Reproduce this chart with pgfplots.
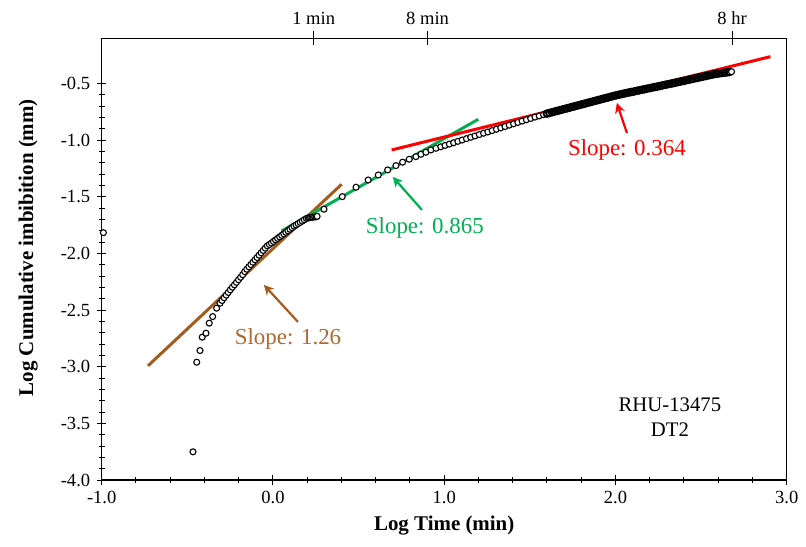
\documentclass[border=0pt]{standalone}
\usepackage{pgfplots}
\pgfplotsset{compat=1.18}
\usepackage{fontspec}
\setmainfont{Liberation Serif}
\usetikzlibrary{arrows.meta}
\definecolor{brownline}{RGB}{164,92,28}
\definecolor{brownlabel}{RGB}{176,104,48}
\definecolor{greenline}{RGB}{0,176,80}
\definecolor{redline}{RGB}{255,0,0}
\begin{document}
\begin{tikzpicture}
\begin{axis}[
  name=main,
  scale only axis,
  width=342.5bp, height=220.85bp,
  xmin=-1, xmax=3, ymin=-4, ymax=-0.1,
  xtick={-1,0,1,2,3}, ytick={-4,-3.5,-3,-2.5,-2,-1.5,-1,-0.5},
  minor x tick num=4, minor y tick num=4,
  xtick pos=bottom, ytick pos=left,
  tick align=center,
  major tick length=4.5bp, minor tick length=3bp,
  tick style={black, line width=0.5pt},
  axis line style={black, line width=0.6pt},
  ticklabel style={font=\fontsize{9.3}{10}\selectfont},
  /pgf/number format/.cd, fixed, fixed zerofill, precision=1, assume math mode=true,
  /pgfplots/.cd,
  xlabel={\textbf{Log Time (min)}},
  ylabel={\textbf{Log Cumulative imbibition (mm)}},
  label style={font=\fontsize{10.5}{12}\selectfont},
  xlabel style={at={(axis description cs:0.5,-0.102)}, anchor=center},
  ylabel style={at={(axis description cs:-0.1075,0.526)}, anchor=center},
  clip=false,
]
\addplot[brownline, line width=1.5bp] coordinates {(-0.730,-2.992) (0.401,-1.389)};
\addplot[greenline, line width=1.5bp] coordinates {(0.051,-1.801) (1.199,-0.815)};
\addplot[redline, line width=1.5bp] coordinates {(0.693,-1.086) (2.905,-0.262)};
\addplot[only marks, mark=*, mark size=1.5bp, mark options={draw=black, fill=white, line width=0.55pt}] coordinates {
(-0.990,-1.816) (-0.467,-3.751) (-0.445,-2.960) (-0.426,-2.857) (-0.413,-2.739) (-0.391,-2.704) (-0.372,-2.615) (-0.352,-2.557) (-0.329,-2.483)
(-0.309,-2.439) (-0.297,-2.415) (-0.285,-2.391) (-0.273,-2.368) (-0.261,-2.344) (-0.249,-2.321) (-0.237,-2.298) (-0.225,-2.277) (-0.213,-2.255)
(-0.201,-2.232) (-0.189,-2.210) (-0.177,-2.187) (-0.165,-2.160) (-0.153,-2.139) (-0.141,-2.118) (-0.129,-2.098) (-0.117,-2.077) (-0.105,-2.056)
(-0.093,-2.036) (-0.081,-2.015) (-0.069,-1.994) (-0.057,-1.973) (-0.045,-1.953) (-0.033,-1.933) (-0.021,-1.921) (-0.009,-1.908) (0.003,-1.894)
(0.015,-1.880) (0.027,-1.867) (0.039,-1.853) (0.051,-1.840) (0.063,-1.826) (0.075,-1.813) (0.087,-1.799) (0.099,-1.786) (0.111,-1.772)
(0.123,-1.759) (0.135,-1.748) (0.147,-1.736) (0.159,-1.725) (0.171,-1.714) (0.183,-1.702) (0.195,-1.691) (0.205,-1.686) (0.213,-1.684)
(0.220,-1.682) (0.228,-1.680) (0.236,-1.678) (0.244,-1.677) (0.252,-1.676) (0.258,-1.672)
(0.298,-1.609) (0.405,-1.498) (0.485,-1.415) (0.556,-1.351) (0.615,-1.307) (0.670,-1.262) (0.718,-1.224) (0.757,-1.194) (0.796,-1.168)
(0.835,-1.145) (0.864,-1.124) (0.893,-1.106) (0.922,-1.086) (0.952,-1.071)
(0.980,-1.058) (1.005,-1.046) (1.030,-1.034) (1.055,-1.022) (1.080,-1.010) (1.105,-0.998) (1.130,-0.986) (1.155,-0.974) (1.180,-0.962)
(1.205,-0.950) (1.230,-0.938) (1.255,-0.927) (1.280,-0.915) (1.305,-0.903) (1.330,-0.891) (1.355,-0.879) (1.380,-0.867) (1.405,-0.855)
(1.430,-0.843) (1.455,-0.831) (1.480,-0.819) (1.505,-0.808) (1.530,-0.796) (1.555,-0.785) (1.580,-0.774)
};
\addplot[only marks, mark=o, mark size=1.7bp, mark options={draw=black, line width=0.9pt}] coordinates {
(1.600,-0.765) (1.615,-0.759) (1.630,-0.753) (1.645,-0.747) (1.660,-0.741) (1.675,-0.735) (1.690,-0.729) (1.705,-0.723) (1.720,-0.717)
(1.735,-0.711) (1.750,-0.705) (1.765,-0.699) (1.780,-0.693) (1.795,-0.687) (1.810,-0.681) (1.825,-0.675) (1.840,-0.669) (1.855,-0.663)
(1.870,-0.657) (1.885,-0.651) (1.900,-0.645) (1.915,-0.639) (1.930,-0.633) (1.945,-0.627) (1.960,-0.621) (1.975,-0.615) (1.990,-0.609)
(2.005,-0.603) (2.020,-0.598) (2.035,-0.593) (2.050,-0.588) (2.065,-0.583) (2.080,-0.578) (2.095,-0.574) (2.110,-0.569) (2.125,-0.564)
(2.140,-0.559) (2.155,-0.554) (2.170,-0.550) (2.185,-0.545) (2.200,-0.540) (2.215,-0.535) (2.230,-0.530) (2.245,-0.526) (2.260,-0.521)
(2.275,-0.516) (2.290,-0.511) (2.305,-0.506) (2.320,-0.502) (2.335,-0.497) (2.350,-0.492) (2.365,-0.487) (2.380,-0.482)
(2.395,-0.477) (2.410,-0.472) (2.425,-0.467) (2.440,-0.462) (2.455,-0.457) (2.470,-0.452) (2.485,-0.447) (2.500,-0.442) (2.515,-0.437)
(2.530,-0.432) (2.545,-0.427) (2.560,-0.422) (2.575,-0.417) (2.590,-0.413) (2.605,-0.410) (2.620,-0.407) (2.635,-0.404) (2.650,-0.401)
(2.665,-0.398)
};
\addplot[only marks, mark=*, mark size=1.5bp, mark options={draw=black, fill=white, line width=0.55pt}] coordinates {(2.678,-0.395)};
\draw[brownline, line width=1.1bp, -{Stealth[length=5bp,width=5bp]}] (axis cs:0.146,-2.604) -- (axis cs:-0.053,-2.277);
\draw[greenline, line width=1.1bp, -{Stealth[length=5bp,width=5bp]}] (axis cs:0.870,-1.615) -- (axis cs:0.700,-1.324);
\draw[redline, line width=1.1bp, -{Stealth[length=5bp,width=5bp]}] (axis cs:2.067,-0.936) -- (axis cs:2.008,-0.671);
\node[text=brownlabel, font=\fontsize{11.5}{13}\selectfont] at (axis cs:0.088,-2.754) {Slope: 1.26};
\node[text=greenline, font=\fontsize{11.5}{13}\selectfont] at (axis cs:0.887,-1.774) {Slope: 0.865};
\node[text=redline, font=\fontsize{11.5}{13}\selectfont] at (axis cs:2.067,-1.086) {Slope: 0.364};
\node[font=\fontsize{10.4}{12}\selectfont] at (axis cs:2.318,-3.336) {RHU-13475};
\node[font=\fontsize{10.4}{12}\selectfont] at (axis cs:2.318,-3.557) {DT2};
\end{axis}
\begin{axis}[
  scale only axis,
  width=342.5bp, height=220.85bp,
  at={(main.south west)}, anchor=south west,
  xmin=-1, xmax=3, ymin=-4, ymax=-0.1,
  axis x line*=top, axis y line=none,
  xtick={0.238,0.903,2.681},
  xticklabels={1 min, 8 min, 8 hr},
  minor x tick num=0,
  tick align=center, major tick length=7bp,
  tick style={black, line width=0.5pt},
  axis line style={black, line width=0.6pt},
  ticklabel style={font=\fontsize{9.3}{10}\selectfont},
]
\addplot[draw=none] coordinates {(0,-1)};
\end{axis}
\path ([xshift=-50.85bp,yshift=-33.5bp]main.south west) rectangle ([xshift=9.65bp,yshift=19.15bp]main.north east);
\end{tikzpicture}
\end{document}
